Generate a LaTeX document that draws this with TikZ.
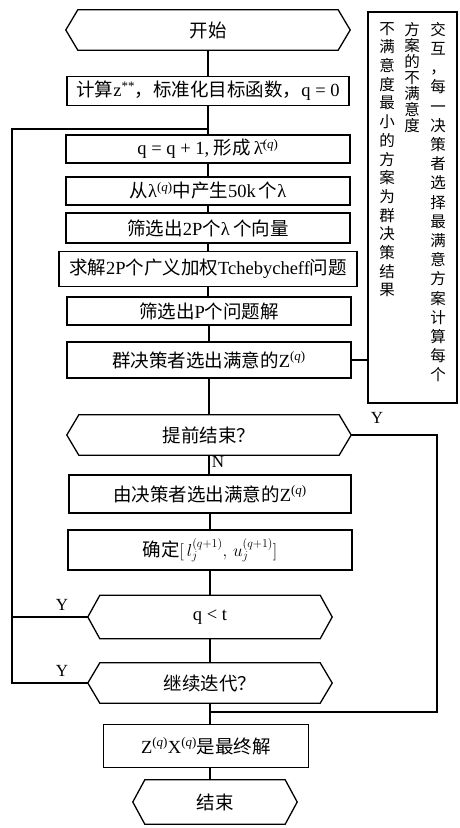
\documentclass[tikz,border=0pt]{standalone}
\usepackage{fontspec}
\setmainfont{Liberation Serif}
\newfontfamily\cjk{Noto Sans CJK SC}
\usetikzlibrary{calc}
\newcommand{\zh}[1]{{\cjk #1}}
\newcommand{\sq}{\textsuperscript{(\textit{q})}}
\tikzset{
 ln/.style={line width=1.1pt, draw=black},
 boxnode/.style={draw, line width=1.3pt, inner sep=0pt, font=\fontsize{18.5}{22}\selectfont},
 hexnode/.style={inner sep=0pt, font=\fontsize{18.5}{22}\selectfont},
 lbl/.style={font=\fontsize{17}{20}\selectfont, inner sep=0pt},
 vcol/.style={anchor=north, inner sep=0pt, align=center},
}
\newcommand{\hexa}[6]{%
 \node[hexnode, minimum width=#4pt, minimum height=#5pt] (#1) at (#2,#3) {#6};
 \draw[ln, line width=1.3pt] (#1.west) -- ($(#1.north west)+(12,0)$) -- ($(#1.north east)+(-12,0)$) -- (#1.east) -- ($(#1.south east)+(-12,0)$) -- ($(#1.south west)+(12,0)$) -- cycle;}
\begin{document}
\begin{tikzpicture}[x=1pt,y=-1pt]
\useasboundingbox (0,0) rectangle (460,828);
% main column
\hexa{start}{208}{30}{284}{40}{\zh{开始}}
\node[boxnode, minimum width=282pt, minimum height=29pt] (b1) at (208,91) {\zh{计算}z\textsuperscript{**}\zh{，标准化目标函数，}q = 0};
\node[boxnode, minimum width=284pt, minimum height=28pt] (b2) at (208,149) {q = q + 1, \zh{形成}\,\={λ}\sq};
\node[boxnode, minimum width=284pt, minimum height=28pt] (b3) at (208,191) {\zh{从}λ\sq\zh{中产生}50k\,\zh{个}λ};
\node[boxnode, minimum width=284pt, minimum height=30pt] (b4) at (208,228) {\zh{筛选出}2P\zh{个}λ\,\zh{个向量}};
\node[boxnode, minimum width=298pt, minimum height=35pt] (b5) at (208,269) {\zh{求解}2P\zh{个广义加权}Tchebycheff\zh{问题}};
\node[boxnode, minimum width=284pt, minimum height=28pt] (b6) at (209,311) {\zh{筛选出}P\zh{个问题解}};
\node[boxnode, minimum width=284pt, minimum height=36pt] (b7) at (209,360) {\zh{群决策者选出满意的}Z\sq};
\hexa{d1}{209}{435}{284}{40}{\zh{提前结束？}}
\node[boxnode, minimum width=282pt, minimum height=38pt] (b8) at (210,494) {\zh{由决策者选出满意的}Z\sq};
\node[boxnode, minimum width=284pt, minimum height=40pt] (b9) at (210,550) {\zh{确定}$[\,l_j^{(q+1)},\,u_j^{(q+1)}]$};
\hexa{d2}{210}{617}{244}{43}{q < t}
\hexa{d3}{210}{683}{244}{40}{\zh{继续迭代？}}
\node[boxnode, minimum width=205pt, minimum height=43pt] (fin) at (206,746) {Z\sq X\sq\zh{是最终解}};
\hexa{end}{215}{802}{164}{44}{\zh{结束}}
% side box
\node[draw, line width=1.3pt, minimum width=89pt, minimum height=391pt, inner sep=0pt] (side) at (412.5,207.5) {};
\node[vcol, font=\cjk\fontsize{15.5}{19.2}\selectfont] (c1) at (438,22) {交\\互\\，\\每\\一\\决\\策\\者\\选\\择\\最\\满\\意\\方\\案\\计\\算\\每\\个};
\node[vcol, font=\cjk\fontsize{15.5}{16}\selectfont] (c2) at (412,22) {方\\案\\的\\不\\满\\意\\度};
\node[vcol, font=\cjk\fontsize{15.5}{18.7}\selectfont] (c3) at (387,22) {不\\满\\意\\度\\最\\小\\的\\方\\案\\为\\群\\决\\策\\结\\果};
% coordinates
\coordinate (j1) at (208,129);
\coordinate (l1) at (12,129);
\coordinate (l2) at (12,617);
\coordinate (l3) at (12,683);
\coordinate (r1) at (437,435);
\coordinate (r2) at (437,712);
\coordinate (j2) at (210,712);
% connectors
\draw[ln] (start.south) -- (b1.north);
\draw[ln] (b1.south) -- (b2.north);
\draw[ln] (b2.south) -- (b3.north);
\draw[ln] (b3.south) -- (b4.north);
\draw[ln] (b4.south) -- (b5.north);
\draw[ln] (b5.south) -- (b5.south |- b6.north);
\draw[ln] (b6.south) -- (b7.north);
\draw[ln] (b7.south) -- (b7.south |- d1.north);
\draw[ln] (d1.south) -- (d1.south |- b8.north);
\draw[ln] (b8.south) -- (b9.north);
\draw[ln] (b9.south) -- (d2.north);
\draw[ln] (d2.south) -- (d3.north);
\draw[ln] (d3.south) -- (d3.south |- fin.north);
\draw[ln] (d3.south |- fin.south) -- (d3.south |- end.north);
\draw[ln, line width=1.6pt] (b7.east) -- (side.west |- b7.east);
\draw[ln] (d2.west) -- (l2) -- (l1) -- (j1);
\draw[ln] (d3.west) -- (l3) -- (l2);
\draw[ln] (d1.east) -- (r1) -- (r2) -- (j2);
% labels
\node[lbl] (yA) at (377,418) {Y};
\node[lbl] (nA) at (218,462) {N};
\node[lbl] (yB) at (62,605) {Y};
\node[lbl] (yC) at (62,671) {Y};
\end{tikzpicture}
\end{document}
